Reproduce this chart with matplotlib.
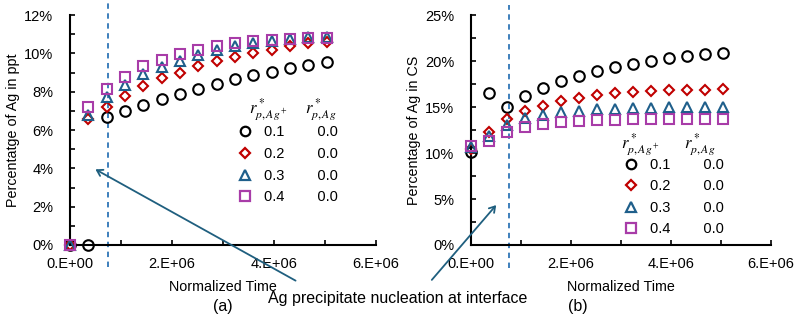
import matplotlib.pyplot as plt
from matplotlib.ticker import MultipleLocator, PercentFormatter, FuncFormatter
from matplotlib.lines import Line2D
from matplotlib.patches import FancyArrowPatch

plt.rcParams['font.family'] = ['Liberation Sans', 'DejaVu Sans']
plt.rcParams['mathtext.fontset'] = 'stix'

# normalized time, 15 samples
time = [i * 0.36e6 for i in range(15)]
t_nucleation = 0.75e6

rp_plus = ['0.1', '0.2', '0.3', '0.4']
rp = ['0.0', '0.0', '0.0', '0.0']

# (a) percentage of Ag in ppt
ppt_01 = [0, 0, 6.66, 7.0, 7.3, 7.62, 7.88, 8.14, 8.38, 8.64, 8.85, 9.04, 9.22, 9.39, 9.57]
ppt_02 = [0, 6.57, 7.22, 7.79, 8.3, 8.7, 9.0, 9.34, 9.6, 9.83, 10.03, 10.2, 10.38, 10.52, 10.6]
ppt_03 = [0, 6.78, 7.7, 8.35, 8.92, 9.27, 9.6, 9.91, 10.17, 10.38, 10.56, 10.66, 10.75, 10.83, 10.87]
ppt_04 = [0, 7.18, 8.12, 8.78, 9.34, 9.65, 9.97, 10.2, 10.4, 10.52, 10.64, 10.7, 10.75, 10.78, 10.82]

# (b) percentage of Ag in CS
cs_01 = [10.14, 16.56, 15.04, 16.23, 17.1, 17.83, 18.37, 18.9, 19.3, 19.67, 20.0, 20.29, 20.54, 20.72, 20.9]
cs_02 = [10.43, 12.25, 13.66, 14.57, 15.1, 15.65, 16.0, 16.3, 16.49, 16.63, 16.74, 16.81, 16.85, 16.88, 16.92]
cs_03 = [10.69, 11.85, 13.04, 13.77, 14.13, 14.42, 14.6, 14.75, 14.82, 14.89, 14.93, 14.96, 14.96, 14.96, 14.96]
cs_04 = [10.76, 11.34, 12.32, 12.86, 13.15, 13.37, 13.51, 13.59, 13.62, 13.66, 13.66, 13.66, 13.66, 13.66, 13.66]

markers = ['o', 'D', '^', 's']
colors = ['black', '#C00000', '#1F5F8B', '#A83CA8']
sizes = [7.6, 5.6, 7.4, 7.6]
arrow_color = '#1F5F7F'
dash_color = '#2E75B6'


def sci_fmt(v, pos):
    if v == 0:
        return '0.E+00'
    return f'{v / 1e6:.0f}.E+06'


def style_axis(ax, ymax, ymajor, yminor, ylabel):
    ax.set_xlim(0, 6e6)
    ax.set_ylim(0, ymax)
    ax.xaxis.set_major_locator(MultipleLocator(2e6))
    ax.xaxis.set_minor_locator(MultipleLocator(1e6))
    ax.xaxis.set_major_formatter(FuncFormatter(sci_fmt))
    ax.yaxis.set_major_locator(MultipleLocator(ymajor))
    ax.yaxis.set_minor_locator(MultipleLocator(yminor))
    ax.yaxis.set_major_formatter(PercentFormatter(100, decimals=0))
    for side in ['top', 'right']:
        ax.spines[side].set_visible(False)
    for side in ['left', 'bottom']:
        ax.spines[side].set_linewidth(1.5)
    ax.tick_params(which='both', direction='in', length=3.5, width=1.2, labelsize=10.5)
    ax.tick_params(axis='x', pad=9)
    ax.tick_params(axis='y', pad=12)
    ax.set_xlabel('Normalized Time', fontsize=10.3, labelpad=6)
    ax.set_ylabel(ylabel, fontsize=10.3, labelpad=3)


def draw_series(ax, series):
    for vals, m, c, s in zip(series, markers, colors, sizes):
        ax.plot(time, vals, linestyle='none', marker=m, markersize=s,
                markerfacecolor='none', markeredgecolor=c, markeredgewidth=1.5,
                clip_on=False, zorder=3)


def draw_legend(ax, x, y, hx1, hx2, hy):
    handles = [Line2D([], [], linestyle='none', marker=m, markersize=s * 0.9,
                      markerfacecolor='none', markeredgecolor=c, markeredgewidth=1.6)
               for m, c, s in zip(markers, colors, sizes)]
    labels = [f'{a}        {b}' for a, b in zip(rp_plus, rp)]
    ax.legend(handles, labels, loc='upper left', bbox_to_anchor=(x, y),
              frameon=False, fontsize=10.5, handlelength=1.0,
              handletextpad=0.8, labelspacing=0.52, borderaxespad=0)
    ax.text(hx1, hy, r'$r^*_{p,Ag^+}$', transform=ax.transAxes,
            fontsize=12, ha='left', va='bottom')
    ax.text(hx2, hy, r'$r^*_{p,Ag}$', transform=ax.transAxes,
            fontsize=12, ha='left', va='bottom')


fig = plt.figure(figsize=(7.96, 3.23), dpi=100)
ax1 = fig.add_axes([0.088, 0.2415, 0.384, 0.712])
ax2 = fig.add_axes([0.5917, 0.2415, 0.377, 0.712])

style_axis(ax1, 12, 2, 1, 'Percentatge of Ag in ppt')
style_axis(ax2, 25, 5, 2.5, 'Percentage of Ag in CS')

draw_series(ax1, [ppt_01, ppt_02, ppt_03, ppt_04])
draw_series(ax2, [cs_01, cs_02, cs_03, cs_04])

ax1.axvline(t_nucleation, ymin=-0.096, ymax=1.065, color=dash_color,
            linestyle=(0, (3, 2.5)), linewidth=1.3, clip_on=False, zorder=2)
ax2.axvline(t_nucleation, ymin=-0.1, ymax=1.043, color=dash_color,
            linestyle=(0, (3, 2.5)), linewidth=1.3, clip_on=False, zorder=2)

draw_legend(ax1, 0.53, 0.545, 0.585, 0.77, 0.53)
draw_legend(ax2, 0.49, 0.405, 0.50, 0.71, 0.38)

fig.text(0.28, 1 - 306 / 323, '(a)', fontsize=11.5, ha='center', va='center')
fig.text(0.726, 1 - 306 / 323, '(b)', fontsize=11.5, ha='center', va='center')
fig.text(0.5, 1 - 298 / 323, 'Ag precipitate nucleation at interface',
         fontsize=11.5, ha='center', va='center')

# arrows from the annotation text to each panel
for start, end in [((298, 282), (93, 168)), ((430, 282), (498, 203))]:
    fig.add_artist(FancyArrowPatch(
        (start[0] / 796, 1 - start[1] / 323), (end[0] / 796, 1 - end[1] / 323),
        transform=fig.transFigure, arrowstyle='->,head_length=4,head_width=2.5',
        color=arrow_color, linewidth=1.3, mutation_scale=1))

fig.savefig('out.png', dpi=100)
